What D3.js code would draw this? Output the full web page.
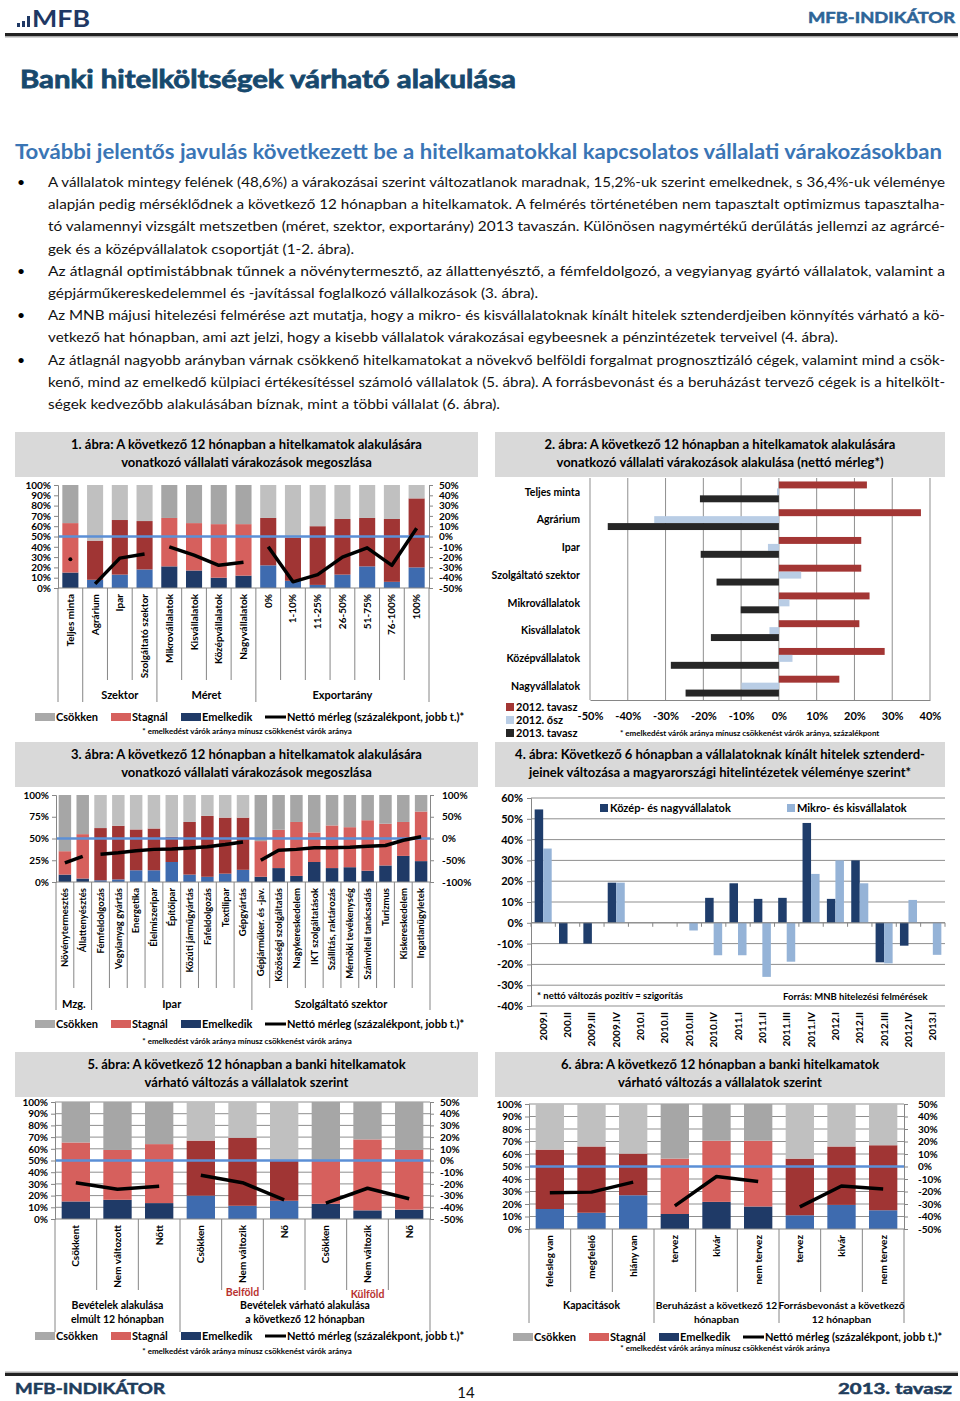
<!DOCTYPE html>
<html>
<head>
<meta charset="utf-8">
<script src="https://cdn.jsdelivr.net/npm/d3@7"></script>
<style>
body { margin: 0; background: #fff; }
text { font-family: Lato, "Open Sans", sans-serif; }
</style>
</head>
<body>
<svg id="page" width="960" height="1401"></svg>
<script>
// ---- chart 1 ----
var c1Cats = ["Teljes minta", "Agrárium", "Ipar", "Szolgáltató szektor", "Mikrovállalatok", "Kisvállalatok",
  "Középvállalatok", "Nagyvállalatok", "0%", "1-10%", "11-25%", "26-50%", "51-75%", "76-100%", "100%"];
var c1Emelk = [15, 8, 13, 18, 21, 17, 10, 12, 22, 7, 3, 13, 21, 6, 20];
var c1Top = [63, 46, 66, 65, 68, 63, 62, 62, 68, 49, 60, 67, 68, 67, 87];   // emelkedik + stagnál
var c1Net = [-22, -46, -21, -17, -10, -18, -28, -25, -10, -44, -37, -20, -11, -28, 8];

// ---- chart 2 ----
var c2Cats = ["Teljes minta", "Agrárium", "Ipar", "Szolgáltató szektor", "Mikrovállalatok", "Kisvállalatok",
  "Középvállalatok", "Nagyvállalatok"];
var c2Series = ["2012. tavasz", "2012. ősz", "2013. tavasz"];
var c2Tavasz12 = [23.3, 37.6, 21.8, 21.8, 24, 21.3, 28, 16];
var c2Osz12 = [-0.5, -33, -2.9, 5.9, 2.8, -2.5, 3.6, -9.9];
var c2Tavasz13 = [-20.9, -45.3, -20.7, -16.5, -10.1, -18, -28.6, -24.7];
var c2Ticks = [-50, -40, -30, -20, -10, 0, 10, 20, 30, 40];

// ---- chart 3 ----
var c3Cats = ["Növénytermesztés", "Állattenyésztés", "Fémfeldolgozás", "Vegyianyag gyártás", "Energetika",
  "Élelmiszeripar", "Építőipar", "Közúti járműgyártás", "Fafeldolgozás", "Textilipar", "Gépgyártás",
  "Gépjárműker. és -jav.", "Közösségi szolgáltatás", "Nagykereskedelem", "IKT szolgáltatások",
  "Szállítás, raktározás", "Mérnöki tevékenység", "Számviteli tanácsadás", "Turizmus", "Kiskereskedelem",
  "Ingatlanügyletek"];
var c3Emelk = [8.5, 4, 2, 3, 13.5, 13.5, 23, 8.5, 6, 9.6, 14, 6, 16, 7, 23, 16, 17, 13, 19, 30, 24];
var c3Top = [35.4, 55, 62, 64.6, 60.4, 61.5, 52, 69, 76, 74, 74, 47, 60, 69, 57, 65, 63, 71, 67, 69, 81];
var c3Net = [-56, -41, -36, -33, -28, -25, -24, -22, -19, -14, -8, -50, -27, -25, -21, -21, -20, -18, -16, -4, 4];

// ---- chart 4 ----
var c4Cats = ["2009.I", "200.II", "2009.III", "2009.IV", "2010.I", "2010.II", "2010.III", "2010.IV", "2011.I",
  "2011.II", "2011.III", "2011.IV", "2012.I", "2012.II", "2012.III", "2012.IV", "2013.I"];
var c4Series = ["Közép- és nagyvállalatok", "Mikro- és kisvállalatok"];
var c4Kozep = [54.5, -10, -10, 19.3, 0, 0, 0, 12, 19, 11.5, 12, 48, 11.5, 30, -19, -11, 0];
var c4Mikro = [35.7, 0, 0, 19.3, 0, 0, -3.7, -15.6, -15.6, -26, -18.7, 23.5, 30, 19, -19.5, 11, -15.4];
var c4Ticks = [-40, -30, -20, -10, 0, 10, 20, 30, 40, 50, 60];

// ---- chart 5 ----
var c5Cats = ["Csökkent", "Nem változott", "Nőtt", "Csökken", "Nem változik", "Nő", "Csökken", "Nem változik", "Nő"];
var c5Emelk = [15, 16.4, 13.6, 20, 11.3, 15.6, 13, 7.4, 8];
var c5Top = [65.4, 59, 64, 67, 69.4, 50, 50, 68, 59];
var c5Net = [-19, -24.5, -22, -12.6, -19, -33.6, -36.4, -23.7, -32.7];

// ---- chart 6 ----
var c6Cats = ["felesleg van", "megfelelő", "hiány van", "tervez", "kivár", "nem tervez", "tervez", "kivár", "nem tervez"];
var c6Emelk = [16, 13, 27, 12, 21.7, 18, 11, 19.3, 15];
var c6Top = [63.5, 66, 60.3, 56.3, 70.6, 70.6, 56.3, 66, 67];
var c6Net = [-21, -20.5, -12.5, -31.5, -8, -12, -32.3, -15.6, -18];

var pctTicks = [0, 10, 20, 30, 40, 50, 60, 70, 80, 90, 100];
var netTicks = [-50, -40, -30, -20, -10, 0, 10, 20, 30, 40, 50];

var schemes = {
  A: {csokk: "#a6a6a6", stag: "#d6605d", emelk: "#1f3a67"},
  B: {csokk: "#c0c0c0", stag: "#a03534", emelk: "#3e6baf"}
};
var legendItems = [
  {name: "Csökken", color: "#a9a9a9"},
  {name: "Stagnál", color: "#d6605d"},
  {name: "Emelkedik", color: "#1f3a67"}
];
var footText = "* emelkedést várók aránya mínusz csökkenést várók aránya";

var svg = d3.select("#page");
var pct = function(d) { return d + "%"; };
var headFont = "'DejaVu Sans', Verdana, sans-serif";

function styleAxis(sel, fs) {
  sel.attr("font-family", "Lato, sans-serif").attr("font-size", fs).attr("font-weight", "bold");
  sel.select(".domain").attr("stroke", "#868686");
  sel.selectAll(".tick line").attr("stroke", "#868686");
  sel.selectAll(".tick text").attr("fill", "#000");
}

function titleBox(x, y, w, lines) {
  svg.append("rect").attr("x", x).attr("y", y).attr("width", w).attr("height", 45).attr("fill", "#d9d9d9");
  lines.forEach(function(l, i) {
    svg.append("text").attr("x", x + w / 2).attr("y", y + 17 + i * 18).attr("text-anchor", "middle")
      .attr("font-size", 13).attr("font-weight", "bold").text(l);
  });
}

function legend(x, y, footX, footY) {
  var offs = [0, 76, 146];
  legendItems.forEach(function(it, i) {
    svg.append("rect").attr("x", x + offs[i]).attr("y", y - 4).attr("width", 20).attr("height", 8).attr("fill", it.color);
    svg.append("text").attr("x", x + offs[i] + 21).attr("y", y + 4).attr("font-size", 11)
      .attr("font-weight", "bold").text(it.name);
  });
  svg.append("line").attr("x1", x + 230).attr("x2", x + 251).attr("y1", y).attr("y2", y)
    .attr("stroke", "#000").attr("stroke-width", 3);
  svg.append("text").attr("x", x + 252).attr("y", y + 4).attr("font-size", 11).attr("font-weight", "bold")
    .text("Nettó mérleg (százalékpont, jobb t.)*");
  svg.append("text").attr("x", footX).attr("y", footY).attr("text-anchor", "middle").attr("font-size", 8)
    .attr("font-weight", "bold").text(footText);
}

function stackChart(c) {
  var g = svg.append("g");
  var n = c.cats.length;
  var x = d3.scaleBand().domain(d3.range(n)).range([c.x0, c.x1]).paddingInner(c.pad).paddingOuter(c.pad / 2);
  var yL = d3.scaleLinear().domain([0, 100]).range([c.yBot, c.yTop]);
  var yR = d3.scaleLinear().domain(c.rDom).range([c.yBot, c.yTop]);
  var step = x.step();

  if (c.grid) {
    g.append("g").selectAll("line").data(d3.range(10, 101, 10)).join("line")
      .attr("x1", c.x0).attr("x2", c.x1).attr("y1", yL).attr("y2", yL)
      .attr("stroke", "#8f8f8f").attr("stroke-width", 1);
  }

  var rows = c.cats.map(function(d, i) {
    return {i: i, emelk: c.emelk[i], stag: c.top[i] - c.emelk[i], csokk: 100 - c.top[i]};
  });
  var schemeOf = function(i) {
    return c.segs.find(function(s) { return i >= s.from && i <= s.to; }).scheme;
  };
  var series = d3.stack().keys(["emelk", "stag", "csokk"])(rows);
  g.append("g").selectAll("g").data(series).join("g")
    .selectAll("rect").data(function(s) { return s.map(function(v) { return {key: s.key, v: v}; }); }).join("rect")
    .attr("x", function(d) { return x(d.v.data.i); })
    .attr("width", x.bandwidth())
    .attr("y", function(d) { return yL(d.v[1]); })
    .attr("height", function(d) { return yL(d.v[0]) - yL(d.v[1]); })
    .attr("fill", function(d) { return schemes[schemeOf(d.v.data.i)][d.key]; });

  g.append("line").attr("x1", c.x0).attr("x2", c.x1).attr("y1", yL(50)).attr("y2", yL(50))
    .attr("stroke", "#5b8fd6").attr("stroke-width", 2.5);

  var line = d3.line()
    .x(function(i) { return x(i) + x.bandwidth() / 2; })
    .y(function(i) { return yR(c.net[i]); });
  c.segs.forEach(function(s) {
    var idx = d3.range(s.from, s.to + 1);
    if (idx.length > 1) {
      g.append("path").attr("d", line(idx)).attr("fill", "none").attr("stroke", "#000")
        .attr("stroke-width", 3.5).attr("stroke-linejoin", "round");
    } else {
      g.append("circle").attr("cx", x(s.from) + x.bandwidth() / 2).attr("cy", yR(c.net[s.from])).attr("r", 2);
    }
  });

  g.append("g").attr("transform", "translate(" + c.x0 + ",0)")
    .call(d3.axisLeft(yL).tickValues(c.lTicks).tickFormat(pct).tickSize(4).tickPadding(3))
    .call(styleAxis, 10);
  g.append("g").attr("transform", "translate(" + c.x1 + ",0)")
    .call(d3.axisRight(yR).tickValues(c.rTicks).tickFormat(pct).tickSize(4).tickPadding(c.rPad))
    .call(styleAxis, 10);
  g.append("line").attr("x1", c.x0).attr("x2", c.x1).attr("y1", c.yBot).attr("y2", c.yBot).attr("stroke", "#868686");

  // separators under the axis
  g.append("g").selectAll("line").data(d3.range(n + 1)).join("line")
    .attr("x1", function(i) { return c.x0 + i * step; })
    .attr("x2", function(i) { return c.x0 + i * step; })
    .attr("y1", c.yBot).attr("y2", c.sepEnd)
    .attr("stroke", "#868686");

  g.append("g").selectAll("text").data(c.cats).join("text")
    .attr("transform", function(d, i) {
      return "translate(" + (x(i) + x.bandwidth() / 2) + "," + (c.yBot + 6) + ") rotate(-90)";
    })
    .attr("dy", "0.35em").attr("text-anchor", "end").attr("font-size", c.catFs).attr("font-weight", "bold")
    .text(function(d) { return d; });

  c.labels.forEach(function(l) {
    l.lines.forEach(function(t, k) {
      g.append("text").attr("x", c.x0 + l.at * step).attr("y", l.y + k * 14).attr("text-anchor", "middle")
        .attr("font-size", l.fs || 11).attr("font-weight", "bold").attr("fill", l.color || "#000").text(t);
    });
  });
}

// ---------- page header ----------
svg.append("rect").attr("x", 17).attr("y", 23).attr("width", 3).attr("height", 4).attr("fill", "#1f3864");
svg.append("rect").attr("x", 22).attr("y", 21).attr("width", 3).attr("height", 6).attr("fill", "#1f3864");
svg.append("rect").attr("x", 27).attr("y", 16).attr("width", 3).attr("height", 11).attr("fill", "#1f3864");
svg.append("text").attr("x", 32).attr("y", 27).attr("font-family", "'Liberation Sans', sans-serif")
  .attr("font-size", 23).attr("font-weight", "bold").attr("fill", "#1f3864")
  .attr("textLength", 58).attr("lengthAdjust", "spacingAndGlyphs").text("MFB");
svg.append("text").attr("x", 808).attr("y", 23)
  .attr("font-family", headFont).attr("font-size", 15)
  .attr("font-weight", "bold").attr("fill", "#2d6497").attr("stroke", "#2d6497").attr("stroke-width", 0.5)
  .attr("textLength", 147).attr("lengthAdjust", "spacingAndGlyphs").text("MFB-INDIKÁTOR");
svg.append("rect").attr("x", 5).attr("y", 33).attr("width", 953).attr("height", 3).attr("fill", "#222");
svg.append("rect").attr("x", 5).attr("y", 36).attr("width", 953).attr("height", 1.5).attr("fill", "#aaa");

svg.append("text").attr("x", 20).attr("y", 88)
  .attr("font-family", headFont).attr("font-size", 25)
  .attr("font-weight", "bold").attr("fill", "#17496d").attr("stroke", "#17496d").attr("stroke-width", 0.8)
  .attr("textLength", 496).attr("lengthAdjust", "spacingAndGlyphs")
  .text("Banki hitelköltségek várható alakulása");

svg.append("text").attr("x", 15).attr("y", 159).attr("font-size", 21).attr("font-weight", "bold")
  .attr("fill", "#3a75b5").attr("textLength", 927).attr("lengthAdjust", "spacingAndGlyphs")
  .text("További jelentős javulás következett be a hitelkamatokkal kapcsolatos vállalati várakozásokban");

var bodyLines = [
  {t: "A vállalatok mintegy felének (48,6%) a várakozásai szerint változatlanok maradnak, 15,2%-uk szerint emelkednek, s 36,4%-uk véleménye", w: 897, b: true},
  {t: "alapján pedig mérséklődnek a következő 12 hónapban a hitelkamatok. A felmérés történetében nem tapasztalt optimizmus tapasztalha-", w: 897},
  {t: "tó valamennyi vizsgált metszetben (méret, szektor, exportarány) 2013 tavaszán. Különösen nagymértékű derűlátás jellemzi az agrárcé-", w: 897},
  {t: "gek és a középvállalatok csoportját (1-2. ábra).", w: 306},
  {t: "Az átlagnál optimistábbnak tűnnek a növénytermesztő, az állattenyésztő, a fémfeldolgozó, a vegyianyag gyártó vállalatok, valamint a", w: 897, b: true},
  {t: "gépjárműkereskedelemmel és -javítással foglalkozó vállalkozások (3. ábra).", w: 490},
  {t: "Az MNB májusi hitelezési felmérése azt mutatja, hogy a mikro- és kisvállalatoknak kínált hitelek sztenderdjeiben könnyítés várható a kö-", w: 897, b: true},
  {t: "vetkező hat hónapban, ami azt jelzi, hogy a kisebb vállalatok várakozásai egybeesnek a pénzintézetek terveivel (4. ábra).", w: 790},
  {t: "Az átlagnál nagyobb arányban várnak csökkenő hitelkamatokat a növekvő belföldi forgalmat prognosztizáló cégek, valamint mind a csök-", w: 897, b: true},
  {t: "kenő, mind az emelkedő külpiaci értékesítéssel számoló vállalatok (5. ábra). A forrásbevonást és a beruházást tervező cégek is a hitelkölt-", w: 897},
  {t: "ségek kedvezőbb alakulásában bíznak, mint a többi vállalat (6. ábra).", w: 452}
];
bodyLines.forEach(function(l, i) {
  var y = 187 + i * 22.2;
  if (l.b) svg.append("text").attr("x", 17).attr("y", y).attr("font-size", 14).text("•");
  svg.append("text").attr("x", 48).attr("y", y).attr("font-size", 14).attr("fill", "#111")
    .attr("textLength", l.w).attr("lengthAdjust", "spacingAndGlyphs").text(l.t);
});

// ---------- chart 1 ----------
titleBox(15, 432, 463, ["1. ábra: A következő 12 hónapban  a hitelkamatok  alakulására",
  "vonatkozó vállalati várakozások  megoszlása"]);
var c1Edges = [0, 1, 4, 8, 15];
stackChart({
  cats: c1Cats, emelk: c1Emelk, top: c1Top, net: c1Net,
  x0: 58, x1: 429, yTop: 485, yBot: 588, pad: 0.35,
  rDom: [-50, 50], lTicks: pctTicks, rTicks: netTicks, rPad: 6, grid: false, catFs: 10,
  segs: [{from: 0, to: 0, scheme: "A"}, {from: 1, to: 3, scheme: "B"}, {from: 4, to: 7, scheme: "A"}, {from: 8, to: 14, scheme: "B"}],
  sepEnd: function(i) { return c1Edges.indexOf(i) >= 0 ? 702 : 680; },
  labels: [{at: 2.5, lines: ["Szektor"], y: 699}, {at: 6, lines: ["Méret"], y: 699}, {at: 11.5, lines: ["Exportarány"], y: 699}]
});
legend(35, 717, 247, 734);

// ---------- chart 2 ----------
titleBox(495, 432, 450, ["2. ábra: A következő 12 hónapban  a hitelkamatok  alakulására",
  "vonatkozó vállalati várakozások  alakulása (nettó mérleg*)"]);
(function() {
  var g = svg.append("g");
  var x = d3.scaleLinear().domain([-50, 40]).range([590, 930]);
  var y = d3.scaleBand().domain(c2Cats).range([478, 700]).paddingInner(0.25).paddingOuter(0.125);
  var ys = d3.scaleBand().domain(c2Series).range([0, y.bandwidth()]);
  var colors = d3.scaleOrdinal().domain(c2Series).range(["#a33634", "#b9cde5", "#262626"]);
  var vals = [c2Tavasz12, c2Osz12, c2Tavasz13];

  g.append("g").selectAll("line").data(c2Ticks).join("line")
    .attr("x1", x).attr("x2", x).attr("y1", 478).attr("y2", 700).attr("stroke", "#8f8f8f");

  c2Series.forEach(function(s, k) {
    g.append("g").selectAll("rect").data(c2Cats).join("rect")
      .attr("x", function(d, i) { return Math.min(x(0), x(vals[k][i])); })
      .attr("width", function(d, i) { return Math.abs(x(vals[k][i]) - x(0)); })
      .attr("y", function(d) { return y(d) + ys(s); })
      .attr("height", ys.bandwidth())
      .attr("fill", colors(s));
  });

  g.append("g").attr("transform", "translate(0,700)")
    .call(d3.axisBottom(x).tickValues(c2Ticks).tickFormat(pct).tickSize(0).tickPadding(12))
    .call(styleAxis, 11);

  g.append("g").selectAll("text").data(c2Cats).join("text")
    .attr("x", 580).attr("y", function(d) { return y(d) + y.bandwidth() / 2; }).attr("dy", "0.35em")
    .attr("text-anchor", "end").attr("font-size", 10.5).attr("font-weight", "bold").text(function(d) { return d; });

  c2Series.forEach(function(s, k) {
    g.append("rect").attr("x", 506).attr("y", 703 + k * 13).attr("width", 8).attr("height", 8).attr("fill", colors(s));
    g.append("text").attr("x", 516).attr("y", 711 + k * 13).attr("font-size", 11).attr("font-weight", "bold").text(s);
  });
  g.append("text").attr("x", 620).attr("y", 736).attr("font-size", 8).attr("font-weight", "bold")
    .text(footText + ", százalékpont");
})();

// ---------- chart 3 ----------
titleBox(15, 742, 463, ["3. ábra: A következő 12 hónapban  a hitelkamatok  alakulására",
  "vonatkozó vállalati várakozások  megoszlása"]);
var c3Edges = [0, 2, 11, 21];
stackChart({
  cats: c3Cats, emelk: c3Emelk, top: c3Top, net: c3Net,
  x0: 56, x1: 430, yTop: 795, yBot: 882, pad: 0.3,
  rDom: [-100, 100], lTicks: [0, 25, 50, 75, 100], rTicks: [-100, -50, 0, 50, 100], rPad: 8, grid: false, catFs: 9.5,
  segs: [{from: 0, to: 1, scheme: "A"}, {from: 2, to: 10, scheme: "B"}, {from: 11, to: 20, scheme: "A"}],
  sepEnd: function(i) { return c3Edges.indexOf(i) >= 0 ? 1010 : 988; },
  labels: [{at: 1, lines: ["Mzg."], y: 1008}, {at: 6.5, lines: ["Ipar"], y: 1008}, {at: 16, lines: ["Szolgáltató szektor"], y: 1008}]
});
legend(35, 1024, 247, 1044);

// ---------- chart 4 ----------
titleBox(495, 742, 450, ["4. ábra: Következő 6 hónapban a vállalatoknak kínált hitelek sztenderd-",
  "jeinek változása a magyarországi hitelintézetek véleménye szerint*"]);
(function() {
  var g = svg.append("g");
  var x = d3.scaleBand().domain(c4Cats).range([531, 945]).paddingInner(0.3).paddingOuter(0.15);
  var xs = d3.scaleBand().domain(c4Series).range([0, x.bandwidth()]);
  var y = d3.scaleLinear().domain([-40, 60]).range([1006, 798]);
  var colors = d3.scaleOrdinal().domain(c4Series).range(["#1f3d6b", "#95b3d7"]);
  var vals = [c4Kozep, c4Mikro];

  g.append("g").selectAll("line").data(c4Ticks).join("line")
    .attr("x1", 531).attr("x2", 945).attr("y1", y).attr("y2", y).attr("stroke", "#8f8f8f");

  c4Series.forEach(function(s, k) {
    g.append("g").selectAll("rect").data(c4Cats).join("rect")
      .attr("x", function(d) { return x(d) + xs(s); })
      .attr("width", xs.bandwidth())
      .attr("y", function(d, i) { return Math.min(y(0), y(vals[k][i])); })
      .attr("height", function(d, i) { return Math.abs(y(vals[k][i]) - y(0)); })
      .attr("fill", colors(s));
  });

  g.append("g").attr("transform", "translate(531,0)")
    .call(d3.axisLeft(y).tickValues(c4Ticks).tickFormat(pct).tickSize(4).tickPadding(4))
    .call(styleAxis, 11);
  g.append("g").selectAll("line").data(d3.range(c4Cats.length + 1)).join("line")
    .attr("x1", function(i) { return 531 + i * x.step(); }).attr("x2", function(i) { return 531 + i * x.step(); })
    .attr("y1", y(0)).attr("y2", y(0) + 4).attr("stroke", "#868686");
  g.append("line").attr("x1", 531).attr("x2", 945).attr("y1", y(0)).attr("y2", y(0)).attr("stroke", "#868686");

  g.append("g").selectAll("text").data(c4Cats).join("text")
    .attr("transform", function(d) { return "translate(" + (x(d) + x.bandwidth() / 2) + ",1012) rotate(-90)"; })
    .attr("dy", "0.35em").attr("text-anchor", "end").attr("font-size", 10).attr("font-weight", "bold")
    .text(function(d) { return d; });

  var lx = [600, 787];
  c4Series.forEach(function(s, k) {
    g.append("rect").attr("x", lx[k]).attr("y", 804).attr("width", 8).attr("height", 8).attr("fill", colors(s));
    g.append("text").attr("x", lx[k] + 10).attr("y", 812).attr("font-size", 11).attr("font-weight", "bold").text(s);
  });
  g.append("text").attr("x", 537).attr("y", 999).attr("font-size", 9.5).attr("font-weight", "bold")
    .text("* nettó változás pozitív = szigorítás");
  g.append("text").attr("x", 783).attr("y", 1000).attr("font-size", 9.5).attr("font-weight", "bold")
    .text("Forrás: MNB hitelezési felmérések");
})();

// ---------- chart 5 ----------
titleBox(15, 1052, 463, ["5. ábra: A következő 12 hónapban  a banki hitelkamatok",
  "várható változás a vállalatok szerint"]);
stackChart({
  cats: c5Cats, emelk: c5Emelk, top: c5Top, net: c5Net,
  x0: 55, x1: 430, yTop: 1102, yBot: 1219, pad: 0.32,
  rDom: [-50, 50], lTicks: pctTicks, rTicks: netTicks, rPad: 6, grid: true, catFs: 10,
  segs: [{from: 0, to: 2, scheme: "A"}, {from: 3, to: 5, scheme: "B"}, {from: 6, to: 8, scheme: "A"}],
  sepEnd: function(i) { return (i === 0 || i === 3 || i === 9) ? 1332 : 1290; },
  labels: [
    {at: 1.5, lines: ["Bevételek alakulása", "elmúlt 12 hónapban"], y: 1309, fs: 10.5},
    {at: 6, lines: ["Bevételek várható alakulása", "a következő 12 hónapban"], y: 1309, fs: 10.5},
    {at: 4.5, lines: ["Belföld"], y: 1296, color: "#b8312f", fs: 10.5},
    {at: 7.5, lines: ["Külföld"], y: 1298, color: "#b8312f", fs: 10.5}
  ]
});
legend(35, 1336, 247, 1354);

// ---------- chart 6 ----------
titleBox(495, 1052, 450, ["6. ábra: A következő 12 hónapban  a banki hitelkamatok",
  "várható változás a vállalatok szerint"]);
stackChart({
  cats: c6Cats, emelk: c6Emelk, top: c6Top, net: c6Net,
  x0: 529, x1: 904, yTop: 1104, yBot: 1229, pad: 0.32,
  rDom: [-50, 50], lTicks: pctTicks, rTicks: netTicks, rPad: 10, grid: true, catFs: 10,
  segs: [{from: 0, to: 2, scheme: "B"}, {from: 3, to: 5, scheme: "A"}, {from: 6, to: 8, scheme: "B"}],
  sepEnd: function(i) { return (i % 3 === 0) ? 1323 : 1292; },
  labels: [
    {at: 1.5, lines: ["Kapacitások"], y: 1309, fs: 10.5},
    {at: 4.5, lines: ["Beruházást a következő 12", "hónapban"], y: 1309, fs: 10.2},
    {at: 7.5, lines: ["Forrásbevonást a következő", "12 hónapban"], y: 1309, fs: 10.2}
  ]
});
legend(513, 1337, 725, 1351);

// ---------- footer ----------
svg.append("rect").attr("x", 5).attr("y", 1373).attr("width", 953).attr("height", 3).attr("fill", "#222");
svg.append("rect").attr("x", 5).attr("y", 1371.5).attr("width", 953).attr("height", 1.5).attr("fill", "#aaa");
svg.append("text").attr("x", 15).attr("y", 1394)
  .attr("font-family", headFont).attr("font-size", 15).attr("font-weight", "bold").attr("fill", "#1f3d5c")
  .attr("stroke", "#1f3d5c").attr("stroke-width", 0.5)
  .attr("textLength", 150).attr("lengthAdjust", "spacingAndGlyphs").text("MFB-INDIKÁTOR");
svg.append("text").attr("x", 466).attr("y", 1398).attr("text-anchor", "middle").attr("font-size", 15)
  .attr("fill", "#111").text("14");
svg.append("text").attr("x", 838).attr("y", 1394)
  .attr("font-family", headFont).attr("font-size", 15).attr("font-weight", "bold").attr("fill", "#1f3d5c")
  .attr("stroke", "#1f3d5c").attr("stroke-width", 0.5)
  .attr("textLength", 114).attr("lengthAdjust", "spacingAndGlyphs").text("2013. tavasz");
</script>
</body>
</html>
